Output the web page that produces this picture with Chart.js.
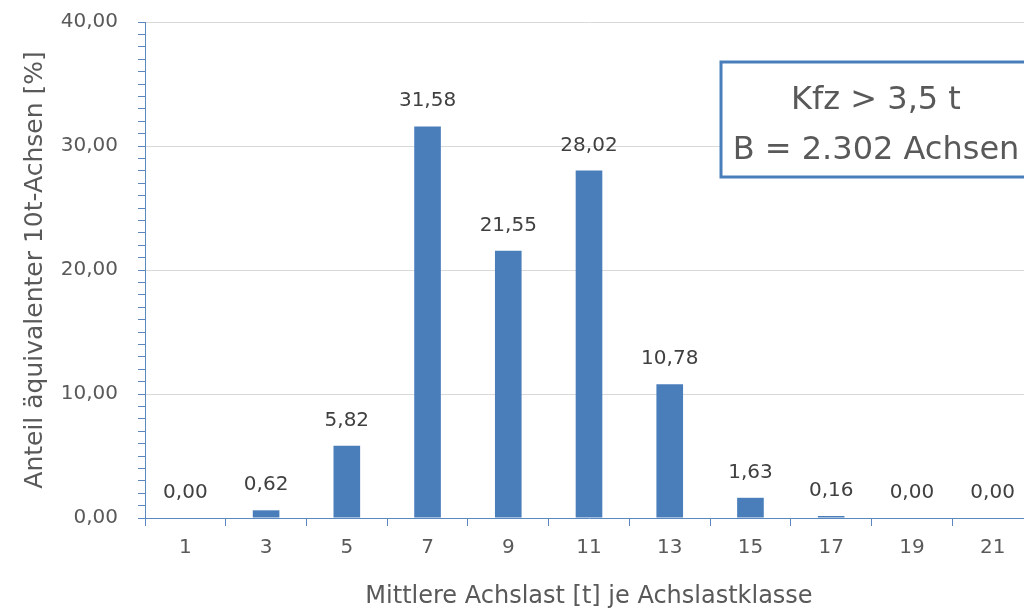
<!DOCTYPE html>
<html>
<head>
<meta charset="utf-8">
<script src="https://cdn.jsdelivr.net/npm/chart.js@4.4.1/dist/chart.umd.min.js"></script>
<style>
  html, body { margin: 0; padding: 0; background: #ffffff; overflow: hidden; width: 1024px; height: 612px; }
  #wrap { position: relative; width: 1040px; height: 612px; }
</style>
</head>
<body>
<div id="wrap"><canvas id="c" width="1040" height="612"></canvas></div>
<script>
// Achslastklassen (mittlere Achslast in t)
const achslastKlassen = ['1', '3', '5', '7', '9', '11', '13', '15', '17', '19', '21'];
// Anteil äquivalenter 10t-Achsen in %
const anteilWerte = [0.00, 0.62, 5.82, 31.58, 21.55, 28.02, 10.78, 1.63, 0.16, 0.00, 0.00];
// beschriftete Werte der y-Achse
const yBeschriftung = [0, 10, 20, 30, 40];
// Textfeld oben rechts
const infoZeilen = ['Kfz > 3,5 t', 'B = 2.302 Achsen'];

const FONT = '"DejaVu Sans", sans-serif';
const BLAU = '#4a7ebb';
const ACHSE = '#5b88c0';
const TEXT = '#595959';

const fmt = v => v.toFixed(2).replace('.', ',');

// Wertebeschriftung über den Säulen
const wertLabels = {
  id: 'wertLabels',
  afterDatasetsDraw(chart) {
    const { ctx } = chart;
    const meta = chart.getDatasetMeta(0);
    ctx.save();
    ctx.font = '20px ' + FONT;
    ctx.fillStyle = '#404040';
    ctx.textAlign = 'center';
    ctx.textBaseline = 'alphabetic';
    meta.data.forEach((bar, i) => {
      ctx.fillText(fmt(anteilWerte[i]), bar.x, bar.y - 20);
    });
    ctx.restore();
  }
};

// Infokasten mit blauem Rahmen
const infoKasten = {
  id: 'infoKasten',
  afterDraw(chart) {
    const { ctx, chartArea } = chart;
    const x = chartArea.left + 576;
    const y = chartArea.top + 40;
    const w = 310, h = 115;
    ctx.save();
    ctx.fillStyle = '#ffffff';
    ctx.fillRect(x, y, w, h);
    ctx.strokeStyle = BLAU;
    ctx.lineWidth = 3;
    ctx.strokeRect(x, y, w, h);
    ctx.fillStyle = TEXT;
    ctx.font = '32px ' + FONT;
    ctx.textAlign = 'center';
    ctx.textBaseline = 'middle';
    ctx.fillText(infoZeilen[0], x + w / 2, y + 39);
    ctx.fillText(infoZeilen[1], x + w / 2, y + 89);
    ctx.restore();
  }
};

new Chart(document.getElementById('c'), {
  type: 'bar',
  data: {
    labels: achslastKlassen,
    datasets: [{
      data: anteilWerte,
      backgroundColor: BLAU,
      borderWidth: 0,
      barPercentage: 1,
      categoryPercentage: 0.33
    }]
  },
  options: {
    responsive: false,
    devicePixelRatio: 1,
    animation: false,
    layout: { padding: { left: 0, right: 7, top: 22, bottom: 0 } },
    plugins: { legend: { display: false }, tooltip: { enabled: false } },
    scales: {
      x: {
        offset: true,
        grid: {
          offset: true,
          drawOnChartArea: false,
          drawTicks: true,
          tickLength: 8,
          tickColor: ACHSE
        },
        border: { color: ACHSE, width: 1 },
        ticks: { color: TEXT, font: { family: FONT, size: 20 }, padding: 10 },
        title: {
          display: true,
          text: 'Mittlere Achslast [t] je Achslastklasse',
          color: TEXT,
          font: { family: FONT, size: 24 },
          padding: { top: 0, bottom: 1 }
        },
        afterFit(scale) { scale.height = 94; }
      },
      y: {
        min: 0,
        max: 40,
        grid: {
          color: c => (c.tick && c.tick.value % 10 === 0 && c.tick.value !== 0) ? '#d9d9d9' : 'rgba(0,0,0,0)',
          tickColor: ACHSE,
          tickLength: 7,
          drawTicks: true
        },
        border: { color: ACHSE, width: 1 },
        ticks: {
          stepSize: 1,
          autoSkip: false,
          color: TEXT,
          font: { family: FONT, size: 20 },
          padding: 20,
          callback: v => yBeschriftung.includes(v) ? fmt(v) : ''
        },
        title: {
          display: true,
          text: 'Anteil äquivalenter 10t-Achsen [%]',
          color: TEXT,
          font: { family: FONT, size: 25 },
          padding: { top: 20, bottom: 0 }
        },
        afterFit(scale) {
          scale.width = 145;
          scale.paddingTop = 0;
          scale.paddingBottom = 0;
        }
      }
    }
  },
  plugins: [wertLabels, infoKasten]
});
</script>
</body>
</html>
